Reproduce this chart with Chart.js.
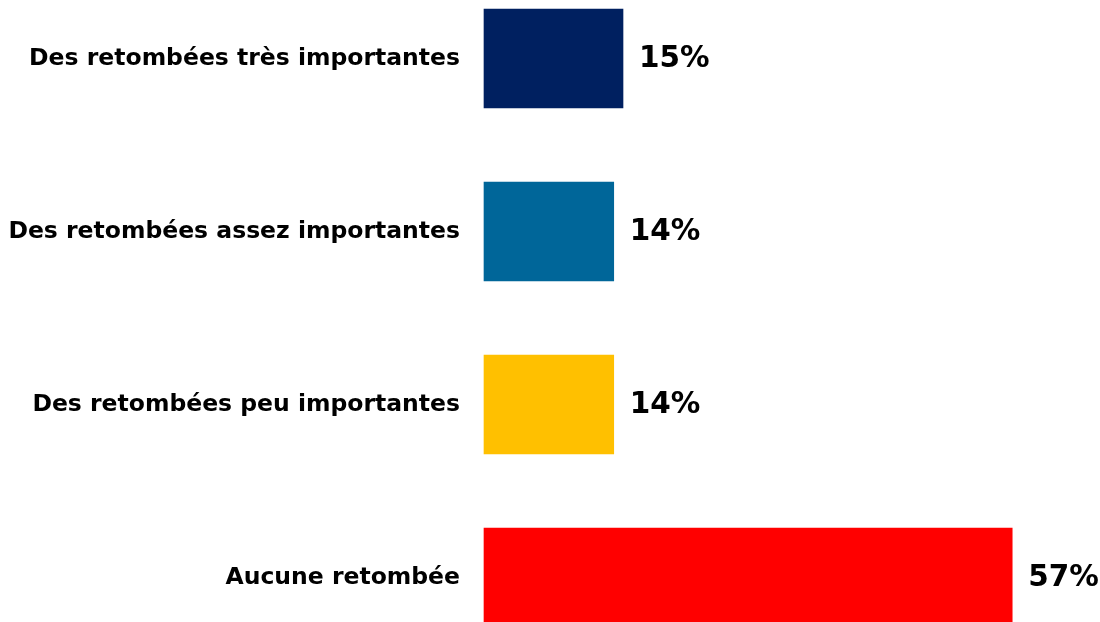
<!DOCTYPE html>
<html>
<head>
<meta charset="utf-8">
<script src="https://cdn.jsdelivr.net/npm/chart.js@4"></script>
<style>
	html, body { margin: 0; padding: 0; background: #ffffff; }
	#wrap { width: 1100px; height: 622px; position: relative; }
</style>
</head>
<body>
<div id="wrap"><canvas id="chart"></canvas></div>
<script>
const categories = [
	"Des retombées très importantes",
	"Des retombées assez importantes",
	"Des retombées peu importantes",
	"Aucune retombée"
];
const values = [15, 14, 14, 57];
const barColors = ["#002060", "#006699", "#FFC000", "#FF0000"];

const fontFamily = "Tahoma, 'DejaVu Sans', Verdana, sans-serif";

// value labels to the right of each bar
const valueLabels = {
	id: "valueLabels",
	afterDatasetsDraw(chart) {
		const { ctx } = chart;
		const meta = chart.getDatasetMeta(0);
		ctx.save();
		ctx.font = `bold 29.5px ${fontFamily}`;
		ctx.fillStyle = "#000000";
		ctx.textAlign = "left";
		ctx.textBaseline = "middle";
		meta.data.forEach((bar, i) => {
			ctx.fillText(`${values[i]}%`, bar.x + 16, bar.y + 1);
		});
		ctx.restore();
	}
};

new Chart(document.getElementById("chart"), {
	type: "bar",
	data: {
		labels: categories,
		datasets: [
			{
				data: values,
				backgroundColor: barColors,
				borderWidth: 0,
				barThickness: 99,
				clip: false
			}
		]
	},
	options: {
		indexAxis: "y",
		responsive: true,
		maintainAspectRatio: false,
		animation: false,
		layout: { padding: { top: 58.5, bottom: 44.5, left: 0, right: 60 } },
		plugins: {
			legend: { display: false },
			tooltip: { enabled: false }
		},
		scales: {
			x: {
				display: false,
				min: 0,
				max: 60
			},
			y: {
				offset: false,
				grid: { display: false, drawTicks: false },
				border: { display: false },
				ticks: {
					color: "#000000",
					padding: 24,
					font: { family: fontFamily, size: 23.5, weight: "bold" }
				},
				afterFit(scale) {
					scale.width = 484;
				}
			}
		}
	},
	plugins: [valueLabels]
});
</script>
</body>
</html>
